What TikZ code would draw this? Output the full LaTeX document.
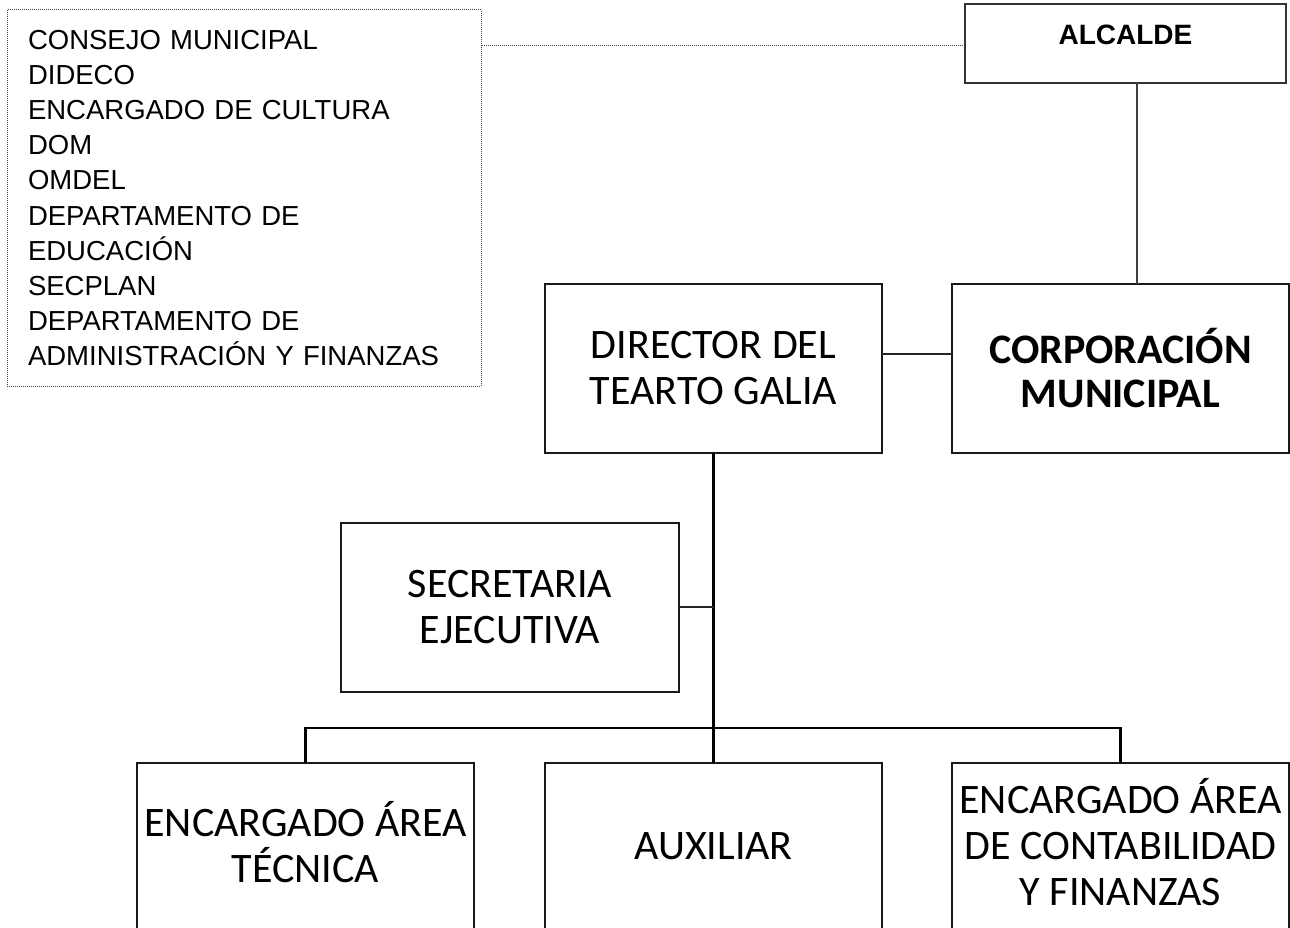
\documentclass[tikz,border=0pt]{standalone}
\usepackage{fontspec}
\newfontfamily\carlito{Carlito}
\newfontfamily\libsans{Liberation Sans}
\begin{document}
\begin{tikzpicture}[x=1pt,y=-1pt,
  orgbox/.style={draw=black!90, line width=2.2pt, rectangle, inner sep=0pt, outer sep=0pt,
    minimum width=337pt, minimum height=169pt, align=center,
    font=\carlito\fontsize{42}{46}\selectfont},
  lowbox/.style={orgbox, text depth=11pt},
  thin/.style={line width=1.3pt, draw=black!85},
  thick/.style={line width=2.6pt, draw=black},
  dots/.style={line width=1pt, draw=black!75, dash pattern=on 1pt off 1pt}]
\useasboundingbox (0,0) rectangle (1290,928);
% list box
\node[dots, rectangle, draw, inner sep=0pt, outer sep=0pt, minimum width=474pt, minimum height=376pt,
  text width=432pt, align=left, font=\libsans\fontsize{27.5}{35.1}\selectfont]
  (list) at (244,198) {CONSEJO MUNICIPAL\\DIDECO\\ENCARGADO DE CULTURA\\DOM\\OMDEL\\DEPARTAMENTO DE\\EDUCACIÓN\\SECPLAN\\DEPARTAMENTO DE\\ADMINISTRACIÓN Y FINANZAS};
% alcalde
\node[draw=black!80, line width=2pt, rectangle, inner sep=0pt, outer sep=0pt,
  minimum width=321pt, minimum height=79pt] (alc) at (1125.5,43.5) {};
\node[font=\libsans\bfseries\fontsize{28}{32}\selectfont, anchor=base, inner sep=0pt] (alct) at (1125.5,45) {ALCALDE};
% main boxes
\node[orgbox] (dir) at (713.5,368.5) {DIRECTOR DEL\\TEARTO GALIA};
\node[orgbox, font=\carlito\bfseries\fontsize{42}{44}\selectfont] (corp) at (1120.5,368.5) {CORPORACIÓN\\MUNICIPAL};
\node[orgbox, minimum width=338pt] (sec) at (510,607.5) {SECRETARIA\\EJECUTIVA};
\node[lowbox] (t1) at (305.5,847.5) {ENCARGADO ÁREA\\TÉCNICA};
\node[orgbox, text depth=3pt] (aux) at (713.5,847.5) {AUXILIAR};
\node[lowbox] (t3) at (1120.5,847.5) {ENCARGADO ÁREA\\DE CONTABILIDAD\\Y FINANZAS};
\coordinate (bus) at (713.5,728);
% connectors
\draw[dots] ([yshift=-2.5pt]alc.west) -- ([yshift=-2.5pt]alc.west -| list.east);
\draw[line width=2pt, draw=black!75] ([xshift=11.5pt]alc.south) -- ([xshift=11.5pt]alc.south |- corp.north);
\draw[thin] ([yshift=14.5pt]dir.east) -- ([yshift=14.5pt]corp.west);
\draw[thick] (dir.south) -- (aux.north);
\draw[thin] ([yshift=0.5pt]sec.east) -- ([yshift=0.5pt]sec.east -| dir.south);
\draw[line width=2.4pt] (t1.north) -- (t1.north |- bus) -- (t3.north |- bus) -- (t3.north);
\end{tikzpicture}
\end{document}
